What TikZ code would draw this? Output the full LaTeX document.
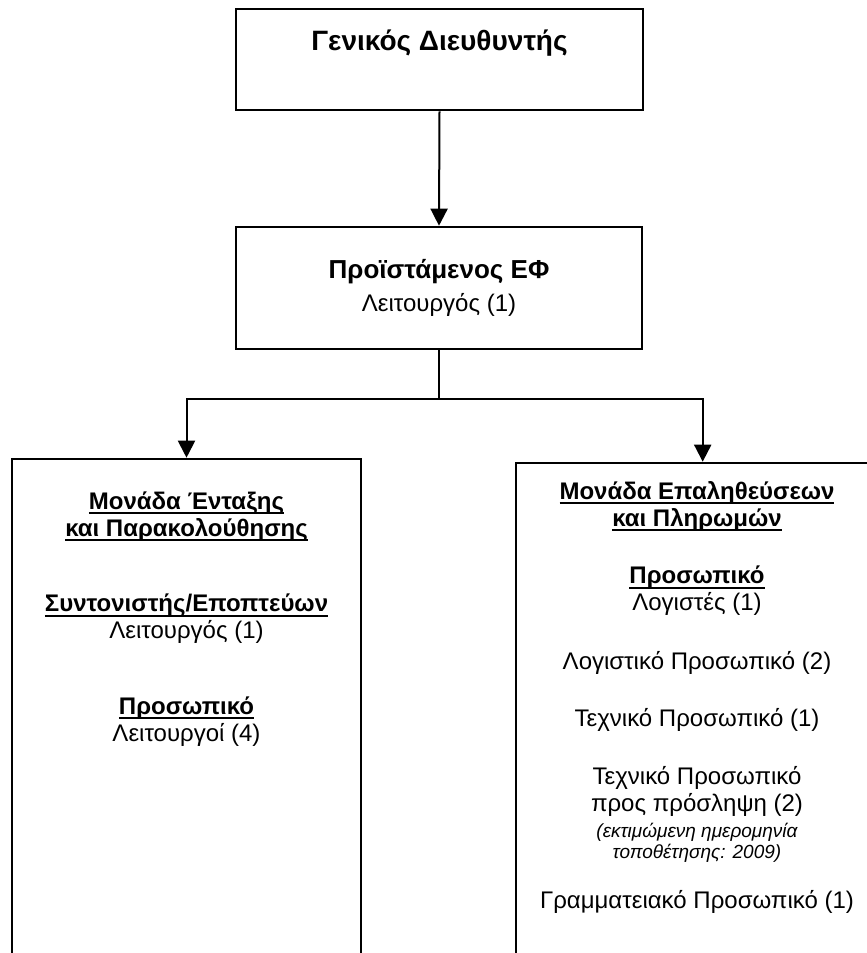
\documentclass[tikz,border=0pt]{standalone}
\usepackage{fontspec}
\setmainfont{Liberation Sans}
\usetikzlibrary{arrows.meta,calc}
% underline set close to the baseline, cutting through descenders
\newcommand{\undl}[1]{\leavevmode\setbox0\hbox{#1}\rlap{\rule[-2.4pt]{\wd0}{0.95pt}}\box0}
\begin{document}
\begin{tikzpicture}[x=0.5pt,y=-0.5pt,
  box/.style={draw, line width=1.3pt, rectangle, inner sep=0pt},
  txt/.style={align=center, font=\fontsize{12}{13.5}\selectfont, inner sep=0pt},
  head/.style={txt, font=\fontsize{12}{13.5}\selectfont\bfseries},
  note/.style={align=center, font=\fontsize{9.5}{10.5}\selectfont\itshape, inner sep=0pt},
  link/.style={line width=1pt},
  arr/.style={link, -{Triangle[width=8.5pt,length=8.5pt]}}]
\useasboundingbox (0,0) rectangle (867,953);
\clip (0,0) rectangle (867,953);

% boxes
\node[box, minimum width=203.5pt, minimum height=50.5pt] (gd) at (439.5,59.5) {};
\node[box, minimum width=203pt, minimum height=61pt] (pf) at (439,288) {};
\node[box, minimum width=174.5pt, minimum height=270.5pt] (mei) at (186.5,729.5) {};
\node[box, minimum width=181pt, minimum height=268.5pt] (mep) at (697,731.5) {};

% connectors
\coordinate (split) at (439,399);
\coordinate (mepin) at ($(mep.north west)+(188,0)$);
\draw[arr] (gd.south) -- (pf.north);
\draw[arr] (pf.south) -- (split) -| (mei.north);
\draw[arr] (split) -| (mepin);

% director
\node[txt, font=\fontsize{14}{16}\selectfont\bfseries] (gdt) at (439.5,43) {Γενικός Διευθυντής};

% head of unit
\node[txt, font=\fontsize{13}{15}\selectfont\bfseries] (pft) at (439,272) {Προϊστάμενος ΕΦ};
\node[txt] (pfs) at (439,305) {Λειτουργός (1)};

% left unit
\node[head] (meih) at (186.5,516.5)
  {\undl{Μονάδα Ένταξης}\\\undl{και Παρακολούθησης}};
\node[txt] (meis) at (186.5,619) {\textbf{\undl{Συντονιστής/Εποπτεύων}}\\Λειτουργός (1)};
\node[txt] (meip) at (186.5,721.5) {\textbf{\undl{Προσωπικό}}\\Λειτουργοί (4)};

% right unit
\node[head] (meph) at (697,506)
  {\undl{Μονάδα Επαληθεύσεων}\\\undl{και Πληρωμών}};
\node[txt] (mepp) at (697,591) {\textbf{\undl{Προσωπικό}}\\Λογιστές (1)};
\node[txt] (mepl) at (697,663) {Λογιστικό Προσωπικό (2)};
\node[txt] (mept) at (697,720) {Τεχνικό Προσωπικό (1)};
\node[txt] (mepn) at (697,791) {Τεχνικό Προσωπικό\\προς πρόσληψη (2)};
\node[note] (mepd) at (697,842.5) {(εκτιμώμενη ημερομηνία\\τοποθέτησης: 2009)};
\node[txt] (mepg) at (697,902) {Γραμματειακό Προσωπικό (1)};
\end{tikzpicture}
\end{document}
